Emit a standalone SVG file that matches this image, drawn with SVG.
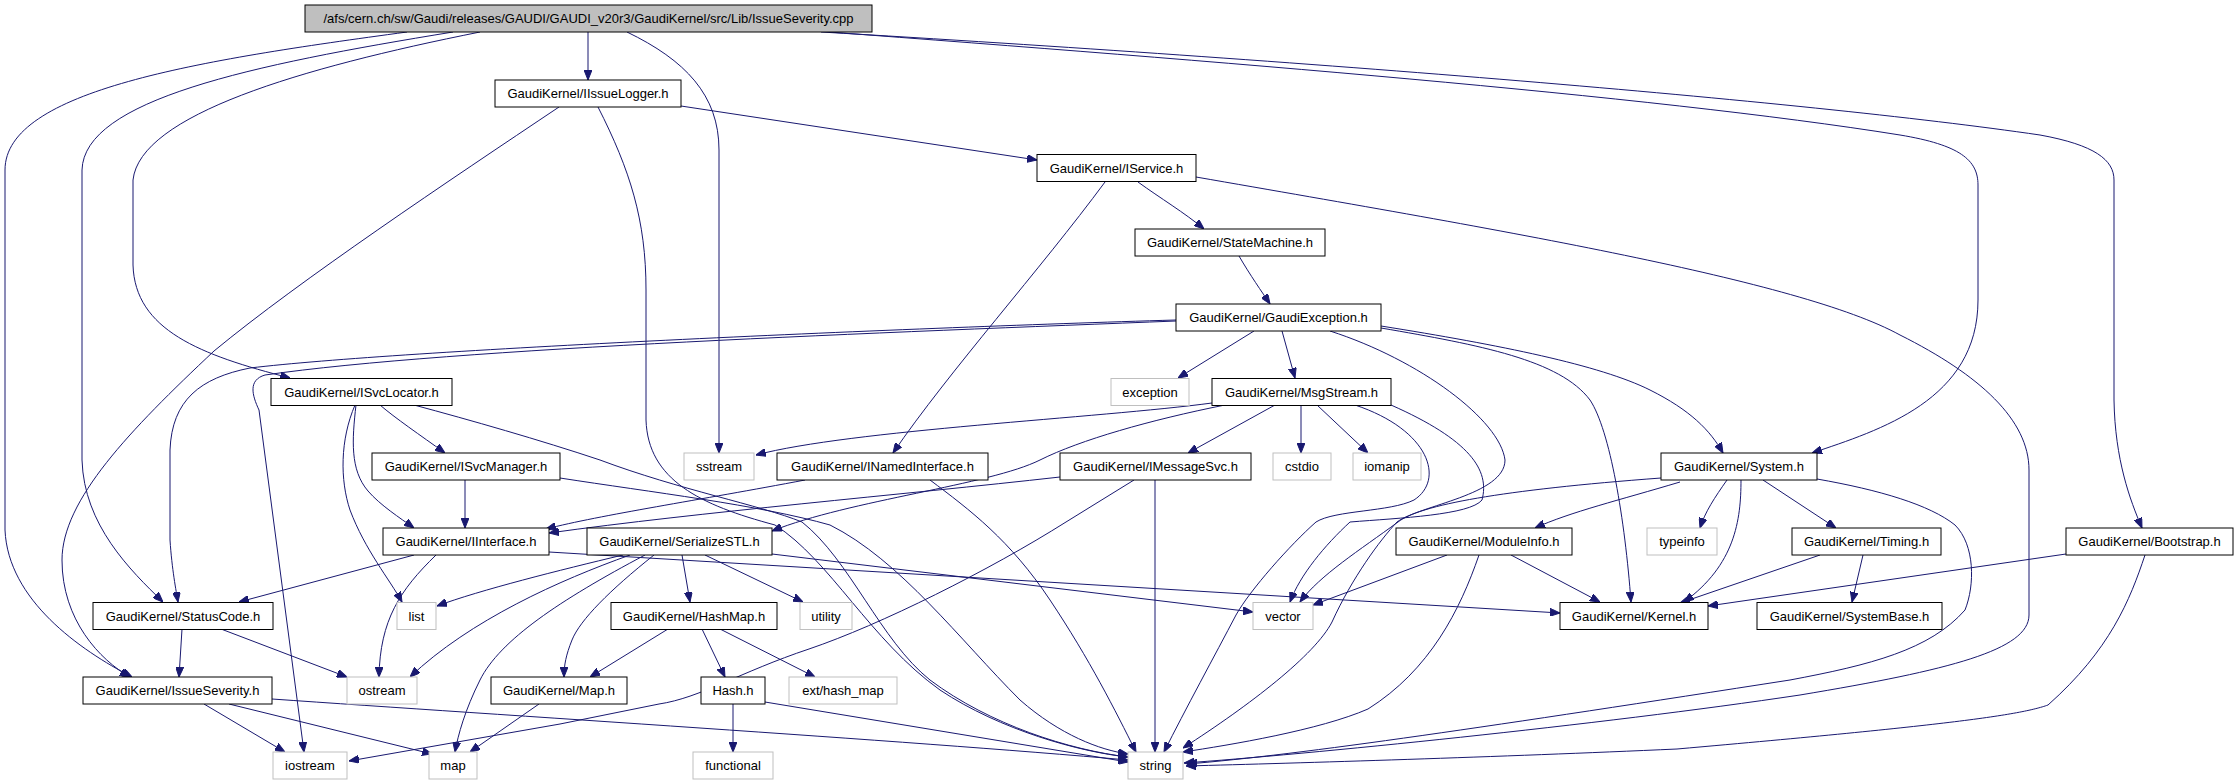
<svg xmlns="http://www.w3.org/2000/svg" width="2236" height="784" viewBox="0 0 2236 784">
<style>
.n rect{fill:#fff;stroke:#000;stroke-width:1}
.n.g rect{stroke:#bfbfbf}
.n.root rect{fill:#bfbfbf;stroke:#000}
.n text{font-family:"Liberation Sans",Arial,Helvetica,sans-serif;font-size:13px;fill:#000;text-anchor:middle}
#edges path{fill:none;stroke:#191970;stroke-width:1;marker-end:url(#arr)}
</style>
<defs>
<marker id="arr" viewBox="0 0 10 8" refX="10" refY="4" markerWidth="10" markerHeight="8" markerUnits="userSpaceOnUse" orient="auto">
<path d="M0,0 L10,4 L0,8 z" fill="#191970" stroke="#191970" stroke-width="1"/>
</marker>
</defs>
<rect width="2236" height="784" fill="#fff"/>
<g id="edges">
<path d="M588,32 L588,80"/>
<path d="M627,32 C685,60 719,95 719,150 L719,453"/>
<path d="M480,32 C300,68 140,115 133,180 L133,265 C135,330 200,355 290,378"/>
<path d="M453,32 C250,65 84,100 82,170 L82,460 C84,525 130,570 163,602"/>
<path d="M407,32 C200,60 5,90 5,170 L5,530 C8,600 80,650 132,677"/>
<path d="M829,32 C1200,60 1650,95 1900,135 C1960,145 1978,160 1978,185 L1978,300 C1978,400 1880,430 1812,453"/>
<path d="M821,32 C1300,60 1800,100 2040,135 C2095,145 2114,160 2114,180 L2114,400 C2115,460 2130,500 2142,528"/>
<path d="M681,106 L1037,160"/>
<path d="M559,107 C450,180 300,280 214,351 C130,430 62,500 62,560 C62,620 100,660 130,677"/>
<path d="M598,107 C630,170 646,220 646,290 L646,420 C648,480 700,505 775,525 C830,560 870,640 940,690 C1000,730 1080,752 1128,757"/>
<path d="M1138,182 C1160,198 1185,213 1204,229"/>
<path d="M1105,182 C1040,270 950,370 893,453"/>
<path d="M1196,177 C1500,230 1800,280 1900,335 C1980,375 2029,420 2029,470 L2029,615 C2029,650 1950,670 1800,695 C1600,725 1300,755 1184,763"/>
<path d="M1239,256 C1250,275 1262,292 1270,304"/>
<path d="M1254,331 L1178,378"/>
<path d="M1282,331 L1295,378"/>
<path d="M1176,320 C900,328 400,350 250,368 C200,378 172,400 170,450 L170,540 C172,570 176,590 178,602"/>
<path d="M1176,321 C900,332 450,348 265,375 C248,380 252,395 259,410 L304,752"/>
<path d="M1330,331 C1420,360 1500,420 1505,460 C1505,495 1420,505 1397,522 C1380,540 1352,578 1332,622 C1315,655 1250,705 1183,748"/>
<path d="M1381,328 C1480,345 1560,360 1590,400 C1610,430 1625,520 1631,602"/>
<path d="M1381,326 C1500,345 1600,365 1650,390 C1690,410 1710,430 1723,453"/>
<path d="M1212,403 C1100,418 850,430 756,455"/>
<path d="M1225,405 C1150,420 1080,440 1040,460 C990,485 850,500 772,531"/>
<path d="M1275,405 L1188,453"/>
<path d="M1301,405 L1301,453"/>
<path d="M1317,405 L1368,453"/>
<path d="M1355,405 C1430,430 1445,480 1414,500 C1390,512 1335,510 1316,522 C1290,545 1250,590 1236,615 C1215,655 1185,710 1164,752"/>
<path d="M1391,405 C1470,440 1490,470 1482,500 C1470,515 1400,518 1350,522 C1325,545 1300,575 1290,602"/>
<path d="M380,405 C395,418 420,435 445,453"/>
<path d="M356,405 C352,440 350,470 368,491 C380,505 400,518 414,528"/>
<path d="M355,405 C340,440 340,480 350,510 C365,550 390,580 402,602"/>
<path d="M414,405 C470,420 540,440 600,460 C680,490 760,505 802,522 C850,560 880,640 930,680 C990,725 1070,750 1128,757"/>
<path d="M465,480 L465,528"/>
<path d="M560,478 C650,492 760,505 830,525 C900,560 960,640 1020,700 C1060,735 1100,750 1128,754"/>
<path d="M805,480 C700,500 600,515 546,529"/>
<path d="M930,480 C970,510 1010,540 1050,600 C1090,660 1115,710 1136,752"/>
<path d="M1060,477 C900,495 700,512 549,533"/>
<path d="M1155,480 L1155,752"/>
<path d="M1134,480 L1066,522 C990,570 880,625 809,649 C740,672 700,698 659,704 L560,724 L349,761"/>
<path d="M414,555 L239,602"/>
<path d="M436,555 C400,590 380,620 379,677"/>
<path d="M549,552 L1560,613"/>
<path d="M623,555 C560,570 480,590 437,606"/>
<path d="M630,555 C560,580 470,620 410,677"/>
<path d="M645,555 C560,600 500,640 480,680 C465,710 458,735 455,752"/>
<path d="M654,555 C610,590 580,620 572,640 C566,655 564,665 564,677"/>
<path d="M682,555 L690,602"/>
<path d="M705,555 L803,602"/>
<path d="M772,554 L1253,612"/>
<path d="M182,629 L179,677"/>
<path d="M221,629 L347,677"/>
<path d="M204,704 L285,752"/>
<path d="M229,704 L432,754"/>
<path d="M272,699 C500,715 900,740 1128,760"/>
<path d="M668,629 L590,677"/>
<path d="M702,629 L725,677"/>
<path d="M720,629 L815,677"/>
<path d="M539,704 L470,752"/>
<path d="M733,704 L733,752"/>
<path d="M765,702 L1128,762"/>
<path d="M1727,480 C1715,497 1705,512 1700,528"/>
<path d="M1741,480 C1741,520 1735,565 1684,602"/>
<path d="M1763,480 L1836,528"/>
<path d="M1817,479 C1880,490 1930,505 1955,525 C1975,545 1975,585 1965,610 C1930,650 1870,665 1790,680 C1500,725 1300,755 1187,764"/>
<path d="M1680,482 C1620,500 1570,512 1535,528"/>
<path d="M1661,478 C1500,490 1420,505 1398,522 C1360,550 1320,575 1300,602"/>
<path d="M1447,555 L1313,605"/>
<path d="M1511,555 L1600,602"/>
<path d="M1479,555 C1460,610 1430,670 1368,709 C1320,730 1230,745 1183,752"/>
<path d="M1820,555 L1680,603"/>
<path d="M1863,555 L1852,602"/>
<path d="M2066,554 L1708,606"/>
<path d="M2145,555 C2130,600 2110,650 2048,705 C2020,715 1950,725 1677,749 C1500,757 1300,763 1186,766"/>
</g>
<g id="n-root" class="n root"><rect x="305" y="5" width="567" height="27"/><text x="588.5" y="23">/afs/cern.ch/sw/Gaudi/releases/GAUDI/GAUDI_v20r3/GaudiKernel/src/Lib/IssueSeverity.cpp</text></g>
<g id="n-IIssueLogger" class="n"><rect x="495" y="80" width="186" height="27"/><text x="588" y="98">GaudiKernel/IIssueLogger.h</text></g>
<g id="n-IService" class="n"><rect x="1037" y="154.5" width="159" height="27"/><text x="1116.5" y="172.5">GaudiKernel/IService.h</text></g>
<g id="n-StateMachine" class="n"><rect x="1135" y="229" width="190" height="27"/><text x="1230" y="247">GaudiKernel/StateMachine.h</text></g>
<g id="n-GaudiException" class="n"><rect x="1176" y="304" width="205" height="27"/><text x="1278.5" y="322">GaudiKernel/GaudiException.h</text></g>
<g id="n-ISvcLocator" class="n"><rect x="271" y="378.5" width="181" height="27"/><text x="361.5" y="396.5">GaudiKernel/ISvcLocator.h</text></g>
<g id="n-exception" class="n g"><rect x="1111" y="378.5" width="78" height="27"/><text x="1150" y="396.5">exception</text></g>
<g id="n-MsgStream" class="n"><rect x="1212" y="378.5" width="179" height="27"/><text x="1301.5" y="396.5">GaudiKernel/MsgStream.h</text></g>
<g id="n-ISvcManager" class="n"><rect x="372" y="453" width="188" height="27"/><text x="466" y="471">GaudiKernel/ISvcManager.h</text></g>
<g id="n-sstream" class="n g"><rect x="684" y="453" width="70" height="27"/><text x="719" y="471">sstream</text></g>
<g id="n-INamedInterface" class="n"><rect x="777" y="453" width="211" height="27"/><text x="882.5" y="471">GaudiKernel/INamedInterface.h</text></g>
<g id="n-IMessageSvc" class="n"><rect x="1060" y="453" width="191" height="27"/><text x="1155.5" y="471">GaudiKernel/IMessageSvc.h</text></g>
<g id="n-cstdio" class="n g"><rect x="1273" y="453" width="58" height="27"/><text x="1302" y="471">cstdio</text></g>
<g id="n-iomanip" class="n g"><rect x="1353" y="453" width="68" height="27"/><text x="1387" y="471">iomanip</text></g>
<g id="n-System" class="n"><rect x="1661" y="453" width="156" height="27"/><text x="1739" y="471">GaudiKernel/System.h</text></g>
<g id="n-IInterface" class="n"><rect x="383" y="528" width="166" height="27"/><text x="466" y="546">GaudiKernel/IInterface.h</text></g>
<g id="n-SerializeSTL" class="n"><rect x="587" y="528" width="185" height="27"/><text x="679.5" y="546">GaudiKernel/SerializeSTL.h</text></g>
<g id="n-ModuleInfo" class="n"><rect x="1396" y="528" width="176" height="27"/><text x="1484" y="546">GaudiKernel/ModuleInfo.h</text></g>
<g id="n-typeinfo" class="n g"><rect x="1647" y="528" width="70" height="27"/><text x="1682" y="546">typeinfo</text></g>
<g id="n-Timing" class="n"><rect x="1792" y="528" width="149" height="27"/><text x="1866.5" y="546">GaudiKernel/Timing.h</text></g>
<g id="n-Bootstrap" class="n"><rect x="2066" y="528" width="167" height="27"/><text x="2149.5" y="546">GaudiKernel/Bootstrap.h</text></g>
<g id="n-StatusCode" class="n"><rect x="93" y="602.5" width="180" height="27"/><text x="183" y="620.5">GaudiKernel/StatusCode.h</text></g>
<g id="n-list" class="n g"><rect x="397" y="602.5" width="39" height="27"/><text x="416.5" y="620.5">list</text></g>
<g id="n-HashMap" class="n"><rect x="611" y="602.5" width="166" height="27"/><text x="694" y="620.5">GaudiKernel/HashMap.h</text></g>
<g id="n-utility" class="n g"><rect x="800" y="602.5" width="52" height="27"/><text x="826" y="620.5">utility</text></g>
<g id="n-vector" class="n g"><rect x="1253" y="602.5" width="60" height="27"/><text x="1283" y="620.5">vector</text></g>
<g id="n-Kernel" class="n"><rect x="1560" y="602.5" width="148" height="27"/><text x="1634" y="620.5">GaudiKernel/Kernel.h</text></g>
<g id="n-SystemBase" class="n"><rect x="1757" y="602.5" width="185" height="27"/><text x="1849.5" y="620.5">GaudiKernel/SystemBase.h</text></g>
<g id="n-IssueSeverity" class="n"><rect x="83" y="677" width="189" height="27"/><text x="177.5" y="695">GaudiKernel/IssueSeverity.h</text></g>
<g id="n-ostream" class="n g"><rect x="347" y="677" width="70" height="27"/><text x="382" y="695">ostream</text></g>
<g id="n-Map" class="n"><rect x="491" y="677" width="136" height="27"/><text x="559" y="695">GaudiKernel/Map.h</text></g>
<g id="n-Hash" class="n"><rect x="701" y="677" width="64" height="27"/><text x="733" y="695">Hash.h</text></g>
<g id="n-ext_hash_map" class="n g"><rect x="789" y="677" width="108" height="27"/><text x="843" y="695">ext/hash_map</text></g>
<g id="n-iostream" class="n g"><rect x="273" y="752" width="74" height="27"/><text x="310" y="770">iostream</text></g>
<g id="n-map" class="n g"><rect x="429" y="752" width="48" height="27"/><text x="453" y="770">map</text></g>
<g id="n-functional" class="n g"><rect x="693" y="752" width="80" height="27"/><text x="733" y="770">functional</text></g>
<g id="n-string" class="n g"><rect x="1128" y="752" width="55" height="27"/><text x="1155.5" y="770">string</text></g>
</svg>
